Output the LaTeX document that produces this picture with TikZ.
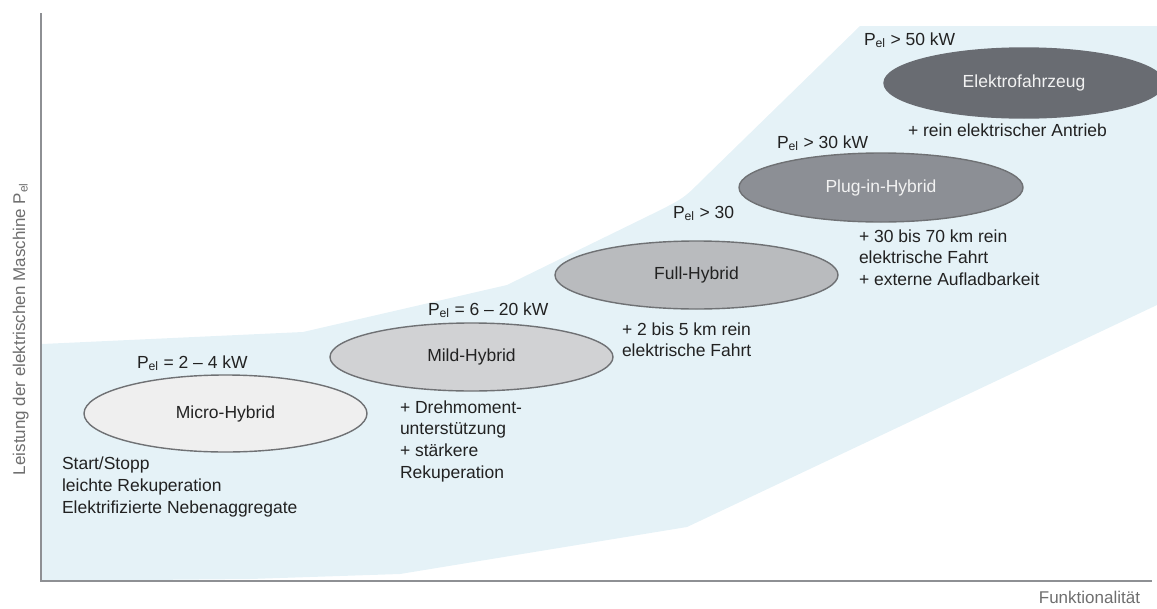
\documentclass[tikz,border=0pt]{standalone}
\usepackage{fontspec}
\setmainfont{Liberation Sans}
\usetikzlibrary{shapes.geometric}

\definecolor{areablue}{HTML}{E5F2F7}
\definecolor{textdark}{HTML}{222222}
\definecolor{textlight}{HTML}{F2F2F2}
\definecolor{axisgray}{HTML}{8E9094}
\definecolor{labelgray}{HTML}{6E6E6E}
\definecolor{edgegray}{HTML}{6F7174}
\definecolor{microfill}{HTML}{EFEFEF}
\definecolor{mildfill}{HTML}{D1D2D4}
\definecolor{fullfill}{HTML}{B9BBBE}
\definecolor{plugfill}{HTML}{8C8F95}
\definecolor{evfill}{HTML}{696C72}

\begin{document}
\begin{tikzpicture}[x=1pt,y=-1pt,
  every node/.style={inner sep=0pt, outer sep=0pt},
  txt/.style={font=\fontsize{17.5}{21.7}\selectfont, text=textdark},
  stage/.style={ellipse, draw=edgegray, line width=1.4pt,
    minimum width=283pt, minimum height=68pt, txt},
  note/.style={txt, align=left, anchor=north west},
  pel/.style={txt, anchor=base west},
  axislabel/.style={font=\fontsize{17}{20}\selectfont, text=labelgray},
  axisline/.style={draw=axisgray, line width=2.6pt}
]
\useasboundingbox (0,0) rectangle (1157,608);

% shaded band of the technology stages
\fill[areablue]
  (42,344) -- (303,332) -- (507,285) -- (640,220)
  .. controls (683,199) .. (700,182) -- (860,26) -- (1157,26)
  -- (1157,305) -- (687,527) -- (400,574) -- (250,579) -- (42,581) -- cycle;

% axes
\coordinate (ytop) at (41,13);
\coordinate (origin) at (41,581);
\coordinate (xend) at (1152,581);
\draw[axisline] (ytop) -- (origin) -- (xend);

\node[axislabel, rotate=90, anchor=base] (ylab) at (25,329)
  {Leistung der elektrischen Maschine P\textsubscript{el}};
\node[axislabel, anchor=base east] (xlab) at (1140,603) {Funktionalität};

% stages
\node[stage, fill=microfill, minimum height=77pt] (micro) at (225.5,413.5) {Micro-Hybrid};
\node[stage, fill=mildfill] (mild) at (471.5,357) {Mild-Hybrid};
\node[stage, fill=fullfill] (full) at (696.5,275) {Full-Hybrid};
\node[stage, fill=plugfill, text=textlight, minimum width=284pt, minimum height=69pt] (plug) at (881,187.5) {Plug-in-Hybrid};
\node[stage, fill=evfill, draw=evfill, text=textlight, minimum width=280pt, minimum height=70pt] (ev) at (1024,83) {Elektrofahrzeug};

% power ranges
\node[pel] (pmicro) at (137,368) {P\textsubscript{el} = 2 – 4 kW};
\node[pel] (pmild) at (428,315) {P\textsubscript{el} = 6 – 20 kW};
\node[pel] (pfull) at (673,218) {P\textsubscript{el} > 30};
\node[pel] (pplug) at (777,148) {P\textsubscript{el} > 30 kW};
\node[pel] (pev) at (864,45) {P\textsubscript{el} > 50 kW};

% functions
\node[note] (fmicro) at (62,457) {Start/Stopp\\leichte Rekuperation\\Elektrifizierte Nebenaggregate};
\node[note] (fmild) at (400,400.5) {+ Drehmoment-\\unterstützung\\+ stärkere\\Rekuperation};
\node[note] (ffull) at (622,322.5) {+ 2 bis 5 km rein\\elektrische Fahrt};
\node[note] (fplug) at (859,229.5) {+ 30 bis 70 km rein\\elektrische Fahrt\\+ externe Aufladbarkeit};
\node[note] (fev) at (908,123.5) {+ rein elektrischer Antrieb};
\end{tikzpicture}
\end{document}
